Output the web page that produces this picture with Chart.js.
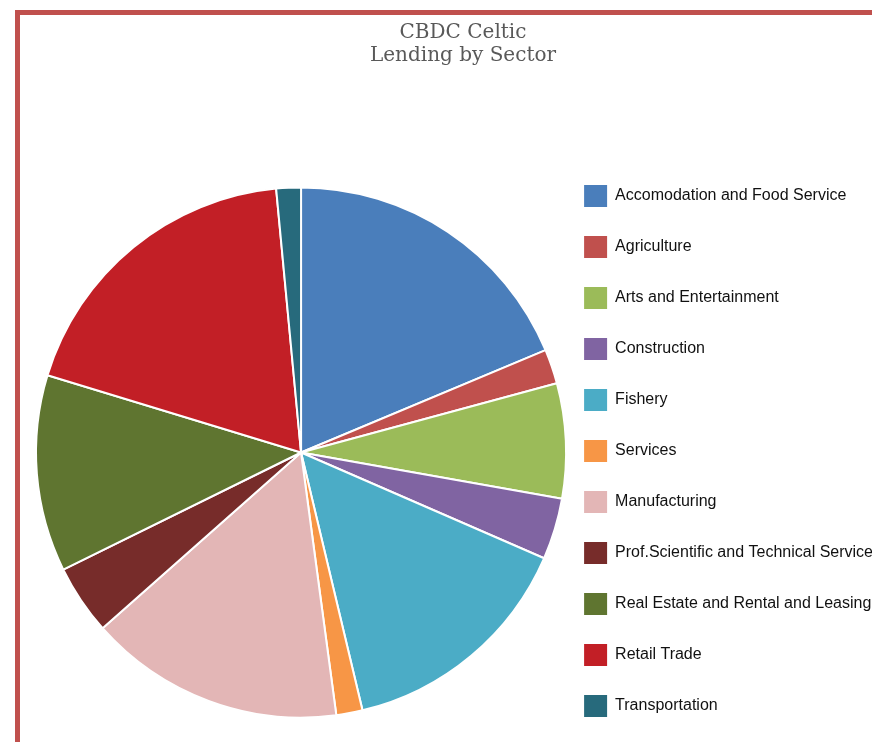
<!DOCTYPE html>
<html>
<head>
<meta charset="utf-8">
<script src="https://cdn.jsdelivr.net/npm/chart.js@4"></script>
<style>
  html, body { margin: 0; padding: 0; background: #fff; overflow: hidden; }
  #frame {
    position: absolute;
    left: 15px;
    top: 10px;
    width: 897px;
    height: 741px;
    border: 5px solid #c0504d;
    border-right: none;
    border-bottom: none;
  }
</style>
</head>
<body>
<div id="frame"><canvas id="sectorChart"></canvas></div>
<script>
// Sector names and lending share (%)
const sectors = [
  'Accomodation and Food Service',
  'Agriculture',
  'Arts and Entertainment',
  'Construction',
  'Fishery',
  'Services',
  'Manufacturing',
  'Prof.Scientific and Technical Services',
  'Real Estate and Rental and Leasing',
  'Retail Trade',
  'Transportation'
];
const shares = [18.7, 2.1, 7.0, 3.75, 14.75, 1.6, 15.6, 4.25, 12.0, 18.8, 1.5];
const sliceColors = [
  '#4a7ebb', '#c0504d', '#9bbb59', '#8064a2', '#4bacc6', '#f79646',
  '#e3b6b6', '#772c2a', '#5f7530', '#c21f26', '#276a7c'
];
const titleLines = ['CBDC Celtic', 'Lending by Sector'];

const ctx = document.getElementById('sectorChart').getContext('2d');

// legend rows: one-line arrays so the row height follows the font lineHeight
const makeLabels = (chart) => {
  const base = Chart.overrides.doughnut.plugins.legend.labels.generateLabels(chart);
  return base.map((item) => ({ ...item, text: [item.text], lineWidth: 0 }));
};

new Chart(ctx, {
  type: 'pie',
  data: {
    labels: sectors,
    datasets: [
      {
        data: shares,
        backgroundColor: sliceColors,
        borderColor: '#ffffff',
        borderWidth: 2,
      },
    ],
  },
  options: {
    responsive: true,
    maintainAspectRatio: false,
    animation: false,
    layout: {
      padding: { left: 15, right: 26, top: 0, bottom: 10 },
    },
    plugins: {
      title: {
        display: true,
        text: titleLines,
        color: '#595959',
        font: { family: 'DejaVu Serif', size: 20, weight: 'normal', lineHeight: '23px' },
        padding: { top: 6, bottom: 92 },
      },
      legend: {
        display: true,
        position: 'right',
        align: 'end',
        labels: {
          boxWidth: 23,
          boxHeight: 22,
          padding: 17,
          color: '#111111',
          font: { family: 'Liberation Sans, Arial, sans-serif', size: 16, lineHeight: '34px' },
          generateLabels: makeLabels,
        },
      },
      tooltip: { enabled: false },
    },
  },
});
</script>
</body>
</html>
